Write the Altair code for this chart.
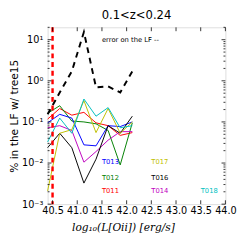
import altair as alt
import pandas as pd

# ---------------- data ----------------
logL = [40.40, 40.645, 40.89, 41.135, 41.38, 41.625, 41.87, 42.115]

T011 = [0.117, 0.212, 0.146, 0.171, 0.095, 0.081, 0.047, 0.055]
T012 = [0.162, 0.248, 0.105, 0.100, 0.090, 0.062, 0.0090, 0.095]
T013 = [0.095, 0.153, 0.124, 0.0277, 0.0262, 0.081, 0.077, 0.100]
T014 = [0.072, 0.081, 0.062, 0.0105, 0.019, 0.036, 0.058, 0.058]
T016 = [0.0236, 0.053, 0.0236, 0.00325, 0.0124, 0.081, 0.053, 0.138]
T017 = [0.0021, 0.053, 0.065, 0.33, 0.055, 0.212, 0.053, 0.100]
T018 = [0.0325, 0.124, 0.053, 0.361, 0.138, 0.223, 0.072, 0.081]
lf_error = [0.153, 0.52, 1.7, 15.4, 0.69, 0.73, 0.52, 1.7]

limit_x = 40.5

series_names = ["T011", "T012", "T013", "T014", "T016", "T017", "T018"]
series_values = [T011, T012, T013, T014, T016, T017, T018]
series_colors = ["#ff0000", "#008000", "#0000ff", "#bf00bf", "#000000", "#bfbf00", "#00bfbf"]

# label positions (data coords)
label_x = [41.5, 41.5, 41.5, 42.5, 42.5, 42.5, 43.5]
label_y = [0.0021, 0.0043, 0.0105, 0.0021, 0.0043, 0.0105, 0.0021]
label_names = ["T011", "T012", "T013", "T014", "T016", "T017", "T018"]

x_ticks = [40.5, 41.0, 41.5, 42.0, 42.5, 43.0, 43.5, 44.0]
y_major = [0.001, 0.01, 0.1, 1, 10]
y_minor = [m * d for d in [0.001, 0.01, 0.1, 1] for m in range(2, 10)] + [20]

W, H = 184, 183
FONT = "DejaVu Sans"

rows = []
for name, vals in zip(series_names, series_values):
    for x, v in zip(logL, vals):
        rows.append({"x": x, "v": v, "s": name})
df = pd.DataFrame(rows)
err_df = pd.DataFrame({"x": logL, "v": lf_error})
lab_df = pd.DataFrame({"x": label_x, "v": label_y, "s": label_names})

xs = alt.Scale(domain=[40.4, 44.0], nice=False, zero=False)
ys = alt.Scale(type="log", domain=[0.001, 20], nice=False)
cs = alt.Scale(domain=series_names, range=series_colors)

x_axis = alt.Axis(values=x_ticks, format=".1f", ticks=False, domain=False, grid=False,
                  labelOverlap=False, labelFlush=False,
                  labelFont=FONT, labelFontSize=10, labelColor="black", labelPadding=2,
                  title="log₁₀(L[Oii]) [erg/s]", titleFont="DejaVu Serif", titleFontStyle="italic",
                  titleFontWeight="normal", titleFontSize=11, titleColor="black", titlePadding=6,
                  titleX=78)
y_axis = alt.Axis(values=y_major, ticks=False, domain=False, grid=False,
                  labelExpr="datum.value >= 5 ? '10¹' : datum.value >= 0.5 ? '10⁰' : datum.value >= 0.05 ? '10⁻¹' : datum.value >= 0.005 ? '10⁻²' : '10⁻³'",
                  labelFont=FONT, labelFontSize=10, labelColor="black", labelPadding=5,
                  labelOverlap=False,
                  title="% in the LF w/ tree15", titleFont=FONT, titleFontWeight="normal",
                  titleFontSize=11, titleColor="black", titleX=-34, titleY=H / 2,
                  titleAngle=-90, titleBaseline="middle", titleAlign="center")

X = alt.X("x:Q", scale=xs, axis=x_axis)
Y = alt.Y("v:Q", scale=ys, axis=y_axis)

lines = alt.Chart(df).mark_line(strokeWidth=1).encode(
    x=X, y=Y, color=alt.Color("s:N", scale=cs, legend=None), detail="s:N")

err = alt.Chart(err_df).mark_line(color="black", strokeWidth=2, strokeDash=[6, 5]).encode(x=X, y=Y)

vline = alt.Chart(pd.DataFrame({"x": [limit_x]})).mark_rule(
    color="#ff0000", strokeWidth=2.5, strokeDash=[5, 4]).encode(x=alt.X("x:Q", scale=xs, axis=x_axis))

labels = alt.Chart(lab_df).mark_text(font=FONT, fontSize=7, align="left", baseline="middle").encode(
    x=X, y=Y, text="s:N", color=alt.Color("s:N", scale=cs, legend=None))

err_text = alt.Chart(pd.DataFrame({"x": [41.5], "v": [10.0], "t": ["error on the LF --"]})).mark_text(
    font=FONT, fontSize=7, align="left", baseline="middle", color="black").encode(x=X, y=Y, text="t:N")

ymaj_df = pd.DataFrame({"v": y_major})
ymin_df = pd.DataFrame({"v": y_minor})
xt_df = pd.DataFrame({"x": x_ticks})

def yticks(d, L):
    a = alt.Chart(d).mark_rule(color="black", strokeWidth=0.8).encode(
        y=alt.Y("v:Q", scale=ys, axis=y_axis), x=alt.value(0), x2=alt.value(L))
    b = alt.Chart(d).mark_rule(color="black", strokeWidth=0.8).encode(
        y=alt.Y("v:Q", scale=ys, axis=y_axis), x=alt.value(W), x2=alt.value(W - L))
    return [a, b]

def xticks(d, L):
    a = alt.Chart(d).mark_rule(color="black", strokeWidth=0.8).encode(
        x=alt.X("x:Q", scale=xs, axis=x_axis), y=alt.value(H), y2=alt.value(H - L))
    b = alt.Chart(d).mark_rule(color="black", strokeWidth=0.8).encode(
        x=alt.X("x:Q", scale=xs, axis=x_axis), y=alt.value(0), y2=alt.value(L))
    return [a, b]

layers = [lines, err, vline, labels, err_text] + yticks(ymaj_df, 4) + yticks(ymin_df, 2) + xticks(xt_df, 4)

chart = alt.layer(*layers).properties(
    width=W, height=H,
    title=alt.TitleParams("0.1<z<0.24", font=FONT, fontSize=12, fontWeight="normal", color="black",
                          anchor="middle", offset=4),
    autosize=alt.AutoSizeParams(type="none"),
    padding={"left": 41, "top": 16, "right": 12, "bottom": 30},
).configure_view(stroke="black", strokeWidth=1).configure(background="white")

chart.save("out.html", embed_options={"renderer": "svg", "actions": False})
